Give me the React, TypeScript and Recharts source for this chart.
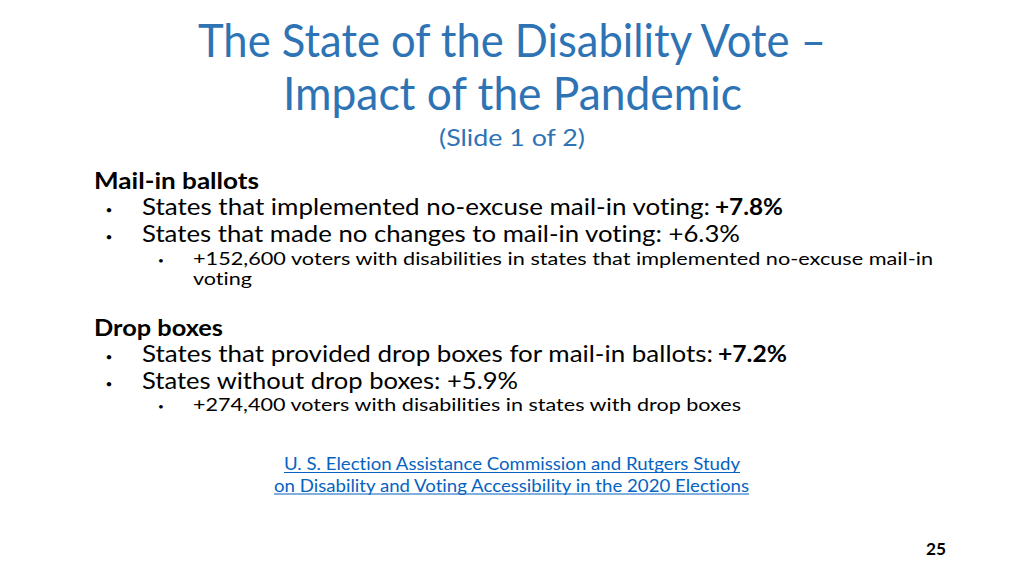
import React from "react";
import { ComposedChart, Customized } from "recharts";

// ---- content ----
const titleLines = ["The State of the Disability Vote –", "Impact of the Pandemic"];
const subtitle = "(Slide 1 of 2)";
const sectionHeadings = ["Mail-in ballots", "Drop boxes"];
const mailInBullets = [
  { text: "States that implemented no-excuse mail-in voting:", value: "+7.8%" },
  { text: "States that made no changes to mail-in voting: +6.3%", value: "" },
];
const mailInSub = ["+152,600 voters with disabilities in states that implemented no-excuse mail-in", "voting"];
const dropBullets = [
  { text: "States that provided drop boxes for mail-in ballots:", value: "+7.2%" },
  { text: "States without drop boxes: +5.9%", value: "" },
];
const dropSub = ["+274,400 voters with disabilities in states with drop boxes"];
const linkLines = [
  "U. S. Election Assistance Commission and Rutgers Study",
  "on Disability and Voting Accessibility in the 2020 Elections",
];
const pageNumber = "25";

// ---- layout (positions / sizes) ----
const FONT = "Lato, 'Open Sans', sans-serif";
const TITLE_COLOR = "#2E74B5";
const LINK_COLOR = "#0563C1";
const TEXT_COLOR = "#000000";

const titleLayout = [
  { y: 57, x1: 198, x2: 826 },
  { y: 110, x1: 283, x2: 742 },
];
const subtitleLayout = { y: 146, x1: 439, x2: 585 };
const headingLayout = [
  { y: 188.5, x1: 94, x2: 259 },
  { y: 335.5, x1: 94, x2: 223 },
];
const mailBulletLayout = [
  { y: 215, x1: 142, x2: 710, vx1: 715, vx2: 783 },
  { y: 242, x1: 142, x2: 740, vx1: 0, vx2: 0 },
];
const dropBulletLayout = [
  { y: 362, x1: 142, x2: 713, vx1: 718, vx2: 787 },
  { y: 388.5, x1: 142, x2: 518, vx1: 0, vx2: 0 },
];
const mailSubLayout = [
  { y: 264.5, x1: 193, x2: 933, bullet: true },
  { y: 285, x1: 193, x2: 252, bullet: false },
];
const dropSubLayout = [{ y: 411, x1: 193, x2: 741, bullet: true }];
const linkLayout = [
  { y: 470, x1: 284, x2: 740 },
  { y: 491.5, x1: 274, x2: 749 },
];
const pageLayout = { y: 555, x1: 926, x2: 946 };

type TProps = {
  x1: number;
  x2: number;
  y: number;
  size: number;
  color: string;
  weight?: number | string;
  children: string;
};

const FitText = ({ x1, x2, y, size, color, weight = 400, children }: TProps) => (
  <text
    x={x1}
    y={y}
    fontSize={size}
    fontFamily={FONT}
    fontWeight={weight}
    fill={color}
    textLength={x2 - x1}
    lengthAdjust="spacingAndGlyphs"
    style={{ fontVariantLigatures: "none" }}
  >
    {children}
  </text>
);

const Bullet = ({ x, y, size }: { x: number; y: number; size: number }) => (
  <text x={x} y={y} fontSize={size} fontFamily={FONT} fill={TEXT_COLOR} textAnchor="middle">
    •
  </text>
);

const SlideContent = () => (
  <g>
    {titleLines.map((t, i) => (
      <FitText key={"t" + i} {...titleLayout[i]} size={47} color={TITLE_COLOR}>
        {t}
      </FitText>
    ))}
    <FitText {...subtitleLayout} size={23} color={TITLE_COLOR}>
      {subtitle}
    </FitText>

    {sectionHeadings.map((h, i) => (
      <FitText key={"h" + i} {...headingLayout[i]} size={23.5} color={TEXT_COLOR} weight={700}>
        {h}
      </FitText>
    ))}

    {[...mailInBullets.map((b, i) => ({ b, l: mailBulletLayout[i] })), ...dropBullets.map((b, i) => ({ b, l: dropBulletLayout[i] }))].map(
      ({ b, l }, i) => (
        <g key={"b" + i}>
          <Bullet x={109} y={l.y - 1} size={12} />
          <FitText x1={l.x1} x2={l.x2} y={l.y} size={23} color={TEXT_COLOR}>
            {b.text}
          </FitText>
          {b.value && (
            <FitText x1={l.vx1} x2={l.vx2} y={l.y} size={23} color={TEXT_COLOR} weight={700}>
              {b.value}
            </FitText>
          )}
        </g>
      )
    )}

    {[...mailInSub.map((s, i) => ({ s, l: mailSubLayout[i] })), ...dropSub.map((s, i) => ({ s, l: dropSubLayout[i] }))].map(
      ({ s, l }, i) => (
        <g key={"s" + i}>
          {l.bullet && <Bullet x={161} y={l.y - 1} size={10} />}
          <FitText x1={l.x1} x2={l.x2} y={l.y} size={17.5} color={TEXT_COLOR}>
            {s}
          </FitText>
        </g>
      )
    )}

    {linkLines.map((t, i) => (
      <g key={"l" + i}>
        <FitText {...linkLayout[i]} size={17.5} color={LINK_COLOR}>
          {t}
        </FitText>
        <line
          x1={linkLayout[i].x1}
          x2={linkLayout[i].x2}
          y1={linkLayout[i].y + 2.5}
          y2={linkLayout[i].y + 2.5}
          stroke={LINK_COLOR}
          strokeWidth={1.2}
        />
      </g>
    ))}

    <FitText {...pageLayout} size={17} color={TEXT_COLOR} weight={700}>
      {pageNumber}
    </FitText>
  </g>
);

export default function App() {
  return (
    <div style={{ position: "absolute", left: 0, top: 0, width: 1024, height: 576, background: "#fff" }}>
      <ComposedChart width={1024} height={576} data={[{}]} margin={{ top: 0, right: 0, bottom: 0, left: 0 }}>
        <Customized component={SlideContent} />
      </ComposedChart>
    </div>
  );
}
